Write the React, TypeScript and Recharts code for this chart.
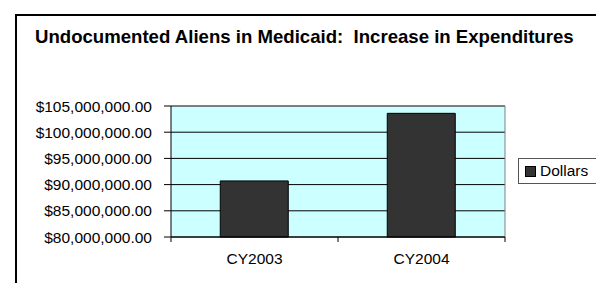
import React from "react";
import { BarChart, Bar, XAxis, YAxis, CartesianGrid, Legend } from "recharts";

const categories = ["CY2003", "CY2004"];
const dollars = [90700000, 103600000];
const yTicks = [80000000, 85000000, 90000000, 95000000, 100000000, 105000000];
const seriesName = "Dollars";
const title = "Undocumented Aliens in Medicaid:  Increase in Expenditures";

const data = categories.map((c, i) => ({ name: c, value: dollars[i] }));

const FONT = "'Liberation Sans', Arial, sans-serif";

const fmt = (v: number) =>
  "$" + v.toLocaleString("en-US", { minimumFractionDigits: 2, maximumFractionDigits: 2 });

const CategoryTick = (props: any) => {
  const { x, y, payload, index, visibleTicksCount } = props;
  const half = payload.offset || 0;
  const isLast = index === (visibleTicksCount ?? categories.length) - 1;
  return (
    <g>
      <line x1={x - half} x2={x - half} y1={y} y2={y + 5} stroke="#000" />
      {isLast && <line x1={x + half} x2={x + half} y1={y} y2={y + 5} stroke="#000" />}
      <text
        x={x}
        y={y + 16}
        dy="0.71em"
        textAnchor="middle"
        fill="#000"
        fontSize={15.5}
        fontFamily={FONT}
      >
        {payload.value}
      </text>
    </g>
  );
};

const LegendBox = () => (
  <div
    style={{
      border: "1px solid #555",
      width: 100,
      height: 26,
      boxSizing: "border-box",
      display: "flex",
      alignItems: "center",
      paddingLeft: 6,
      fontFamily: FONT,
      fontSize: 15.5,
      color: "#000",
      background: "#fff",
    }}
  >
    <span
      style={{
        display: "inline-block",
        width: 9,
        height: 9,
        background: "#333333",
        border: "1px solid #000",
        marginRight: 4,
      }}
    />
    <span>{seriesName}</span>
  </div>
);

export default function App() {
  return (
    <div
      style={{
        position: "absolute",
        left: 0,
        top: 0,
        width: 596,
        height: 283,
        overflow: "hidden",
        background: "#fff",
      }}
    >
      <div
        style={{
          position: "absolute",
          left: 15,
          top: 14,
          width: 800,
          height: 500,
          border: "2px solid #000",
        }}
      />
      <div
        style={{
          position: "absolute",
          left: 35,
          top: 28,
          fontFamily: FONT,
          fontWeight: "bold",
          fontSize: 18.6,
          lineHeight: "18px",
          whiteSpace: "pre",
          color: "#000",
        }}
      >
        {title}
      </div>
      <div style={{ position: "absolute", left: 0, top: 0 }}>
        <BarChart
          width={596}
          height={283}
          data={data}
          margin={{ top: 106, right: 91, left: 0, bottom: 0 }}
          barCategoryGap="29.5%"
        >
          <CartesianGrid
            vertical={false}
            stroke="#000"
            fill="#CCFFFF"
            fillOpacity={1}
          />
          <CartesianGrid
            stroke="#808080"
            horizontalCoordinatesGenerator={({ offset }: any) => [offset.top]}
            verticalCoordinatesGenerator={({ offset }: any) => [offset.left + offset.width]}
          />
          <XAxis
            dataKey="name"
            height={46}
            tickLine={false}
            tickSize={0}
            tickMargin={0}
            interval={0}
            axisLine={{ stroke: "#000" }}
            tick={<CategoryTick />}
          />
          <YAxis
            width={171}
            domain={[yTicks[0], yTicks[yTicks.length - 1]]}
            ticks={yTicks}
            interval={0}
            tickFormatter={fmt}
            tickSize={7}
            tickMargin={12}
            axisLine={{ stroke: "#000" }}
            tickLine={{ stroke: "#000" }}
            tick={{ fill: "#000", fontSize: 15.5, fontFamily: FONT }}
          />
          <Legend
            layout="horizontal"
            align="center"
            verticalAlign="middle"
            content={() => <LegendBox />}
            wrapperStyle={{ position: "absolute", left: 518, top: 158, width: 100 }}
          />
          <Bar
            dataKey="value"
            name={seriesName}
            fill="#333333"
            stroke="#000"
            strokeWidth={1}
            isAnimationActive={false}
          />
        </BarChart>
      </div>
    </div>
  );
}
